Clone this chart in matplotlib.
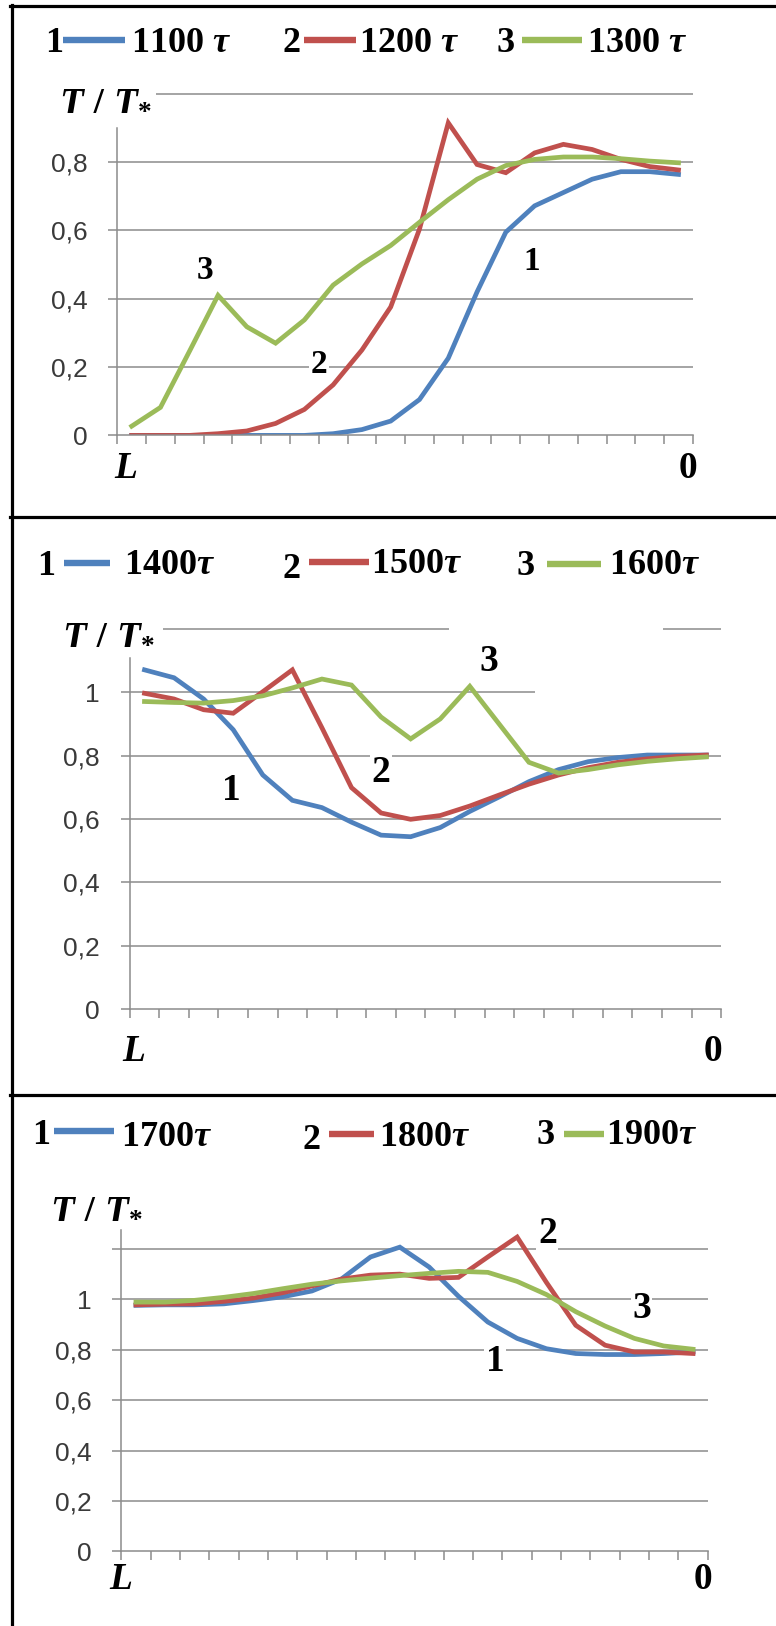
import numpy as np
import matplotlib.pyplot as plt
from matplotlib.lines import Line2D

W, H = 776, 1626

# узлы сетки вдоль оси: 20 точек от L до 0
x_idx = np.arange(20)

# панель 1: 1100, 1200, 1300 tau
t1100 = [0.0, 0.0, 0.0, 0.0, 0.0, 0.0, 0.0, 0.005, 0.017, 0.042,
         0.105, 0.226, 0.42, 0.595, 0.672, 0.711, 0.75, 0.772, 0.772, 0.764]
t1200 = [0.0, 0.0, 0.0, 0.005, 0.013, 0.035, 0.076, 0.148, 0.25, 0.376,
         0.604, 0.915, 0.793, 0.769, 0.827, 0.852, 0.837, 0.808, 0.787, 0.777]
t1300 = [0.027, 0.082, 0.245, 0.41, 0.318, 0.27, 0.338, 0.44, 0.502, 0.556,
         0.624, 0.69, 0.75, 0.79, 0.808, 0.815, 0.815, 0.81, 0.803, 0.798]

# панель 2: 1400, 1500, 1600 tau
t1400 = [1.071, 1.046, 0.979, 0.882, 0.739, 0.659, 0.636, 0.59, 0.549, 0.544,
         0.573, 0.624, 0.67, 0.718, 0.756, 0.781, 0.794, 0.802, 0.802, 0.802]
t1500 = [0.997, 0.979, 0.945, 0.934, 1.002, 1.071, 0.888, 0.699, 0.619, 0.599,
         0.611, 0.641, 0.676, 0.71, 0.739, 0.762, 0.779, 0.79, 0.798, 0.802]
t1600 = [0.971, 0.968, 0.966, 0.974, 0.989, 1.014, 1.042, 1.023, 0.922, 0.853,
         0.916, 1.019, 0.899, 0.779, 0.745, 0.756, 0.771, 0.782, 0.79, 0.796]

# панель 3: 1700, 1800, 1900 tau
t1700 = [0.976, 0.978, 0.978, 0.982, 0.995, 1.01, 1.033, 1.08, 1.168, 1.207,
         1.128, 1.012, 0.91, 0.845, 0.804, 0.785, 0.781, 0.781, 0.785, 0.791]
t1800 = [0.978, 0.981, 0.982, 0.992, 1.005, 1.026, 1.053, 1.08, 1.096, 1.1,
         1.083, 1.087, 1.168, 1.247, 1.067, 0.897, 0.818, 0.791, 0.791, 0.785]
t1900 = [0.989, 0.989, 0.996, 1.008, 1.023, 1.042, 1.06, 1.073, 1.084, 1.094,
         1.103, 1.111, 1.107, 1.071, 1.019, 0.951, 0.894, 0.845, 0.815, 0.802]

legend_1 = ["1100 $\\tau$", "1200 $\\tau$", "1300 $\\tau$"]
legend_2 = ["1400$\\tau$", "1500$\\tau$", "1600$\\tau$"]
legend_3 = ["1700$\\tau$", "1800$\\tau$", "1900$\\tau$"]

yticks_1 = [0, 0.2, 0.4, 0.6, 0.8]
yticks_2 = [0, 0.2, 0.4, 0.6, 0.8, 1.0]
yticks_3 = [0, 0.2, 0.4, 0.6, 0.8, 1.0, 1.2]
ylabels_1 = ["0", "0,2", "0,4", "0,6", "0,8"]
ylabels_2 = ["0", "0,2", "0,4", "0,6", "0,8", "1"]
ylabels_3 = ["0", "0,2", "0,4", "0,6", "0,8", "1", ""]

colors = ["#4F81BD", "#C0504D", "#9BBB59"]
grid_c = "#8C8C8C"

plt.rcParams['font.family'] = ['Liberation Sans', 'DejaVu Sans']
plt.rcParams['mathtext.fontset'] = 'custom'
plt.rcParams['mathtext.it'] = 'Liberation Serif:italic:bold'
plt.rcParams['mathtext.rm'] = 'Liberation Serif:bold'
plt.rcParams['mathtext.bf'] = 'Liberation Serif:bold'

fig = plt.figure(figsize=(W / 100, H / 100), dpi=100)


def fx(x):
    return x / W


def fy(y):
    return 1 - y / H


def serif_text(x, y, s, size, **kw):
    fig.text(fx(x), fy(y), s, fontsize=size, family='Liberation Serif',
             weight='bold', **kw)


def panel(box, series, ylim_top, yticks, ylabels, spine_top, grid, labels,
          label_size):
    left, right, top, bottom = box
    ax = fig.add_axes([fx(left), fy(bottom), (right - left) / W,
                       (bottom - top) / H])
    for y, x0, x1 in grid:
        ax.hlines(y, x0, x1, color=grid_c, lw=1.1, zorder=0.5, clip_on=False)
    for vals, c in zip(series, colors):
        ax.plot(x_idx, vals, color=c, lw=3.4, solid_joinstyle='miter',
                zorder=2)
    for s, xi, yv in labels:
        ax.text(xi, yv, s, fontsize=label_size, family='Liberation Serif',
                weight='bold', ha='center', va='center', zorder=1.5,
                bbox=dict(facecolor='white', edgecolor='none', pad=1))
    ax.set_xlim(-0.5, 19.5)
    ax.set_ylim(0, ylim_top)
    ax.set_xticks(np.arange(21) - 0.5)
    ax.set_xticklabels([])
    ax.set_yticks(yticks)
    ax.set_yticklabels(ylabels)
    ax.tick_params(axis='x', direction='out', length=6.5, width=1.1,
                   color=grid_c)
    ax.tick_params(axis='y', direction='out', length=6.5, width=1.1,
                   color=grid_c, pad=15, labelsize=19, labelcolor='#3a3a3a')
    for side in ['top', 'right']:
        ax.spines[side].set_visible(False)
    for side in ['left', 'bottom']:
        ax.spines[side].set_color(grid_c)
        ax.spines[side].set_linewidth(1.1)
    ax.spines['left'].set_bounds(0, spine_top)
    ax.patch.set_alpha(0)
    return ax


def legend_row(items, labels):
    # items: (x номера, y номера, x0 линии, x1 линии, y линии, x текста, y текста)
    for (nx, ny, lx0, lx1, ly, tx, ty), lab, c, num in zip(items, labels, colors,
                                                           ["1", "2", "3"]):
        serif_text(nx, ny + 12, num, 26, ha='left', va='baseline')
        fig.add_artist(Line2D([fx(lx0), fx(lx1)], [fy(ly), fy(ly)], color=c,
                              lw=4.6, solid_capstyle='butt'))
        serif_text(tx, ty + 12, lab, 26, ha='left', va='baseline')


def axis_titles(tx, ty, lx, ly, zx):
    serif_text(tx, ty + 13, "$T\\ /\\ T_{*}$", 28, ha='left', va='baseline')
    fig.text(fx(lx), fy(ly), "L", fontsize=27, family='Liberation Serif',
             weight='bold', style='italic', ha='center', va='center')
    serif_text(zx, ly, "0", 27, ha='center', va='center')


# --- панель 1 ---
full = -0.5, 19.5
panel((117.3, 692.9, 93.8, 435.4), [t1100, t1200, t1300], 1.0,
      yticks_1, ylabels_1, 0.9,
      [(0.2, *full), (0.4, *full), (0.6, *full), (0.8, *full),
       (1.0, 0.84, 19.5)],
      [("3", 2.56, 0.484), ("2", 6.51, 0.207), ("1", 13.9, 0.508)], 24)
legend_row([(45, 40, 63, 125, 40, 131, 40),
            (282, 40, 304, 356, 40, 359, 40),
            (497, 40, 522, 582, 40, 587, 40)], legend_1)
axis_titles(59, 97, 126, 469, 688)

# --- панель 2 ---
panel((129.7, 721.2, 629, 1009), [t1400, t1500, t1600], 1.2,
      yticks_2, ylabels_2, 1.109,
      [(0.2, *full), (0.4, *full), (0.6, *full), (0.8, *full),
       (1.0, -0.5, 13.2), (1.2, 0.63, 10.3), (1.2, 17.53, 19.5)],
      [("1", 2.95, 0.689), ("2", 7.99, 0.746), ("3", 11.65, 1.096)], 27)
legend_row([(37, 563, 64, 110, 563, 124, 562),
            (282, 566, 309, 369, 562, 371, 561),
            (517, 563, 547, 601, 564, 609, 562)], legend_2)
axis_titles(62, 631, 134, 1051, 713)

# --- панель 3 ---
panel((121.3, 707.7, 1230, 1551.4), [t1700, t1800, t1900], 1.275,
      yticks_3, ylabels_3, 1.275,
      [(0.2, *full), (0.4, *full), (0.6, *full), (0.8, *full),
       (1.0, *full), (1.2, *full)],
      [("2", 14.03, 1.261), ("3", 17.24, 0.963), ("1", 12.25, 0.753)], 27)
legend_row([(32, 1132, 54, 114, 1131, 121, 1134),
            (302, 1137, 329, 374, 1134, 379, 1134),
            (537, 1132, 564, 604, 1134, 606, 1132)], legend_3)
axis_titles(50, 1205, 121, 1579, 703)

# рамки панелей
for y in [6, 517, 1095]:
    fig.add_artist(Line2D([fx(10), 1], [fy(y), fy(y)], color='black', lw=2.3))
fig.add_artist(Line2D([fx(11.5), fx(11.5)], [fy(5), 0], color='black', lw=2.3))

fig.savefig("out.png", dpi=100)
